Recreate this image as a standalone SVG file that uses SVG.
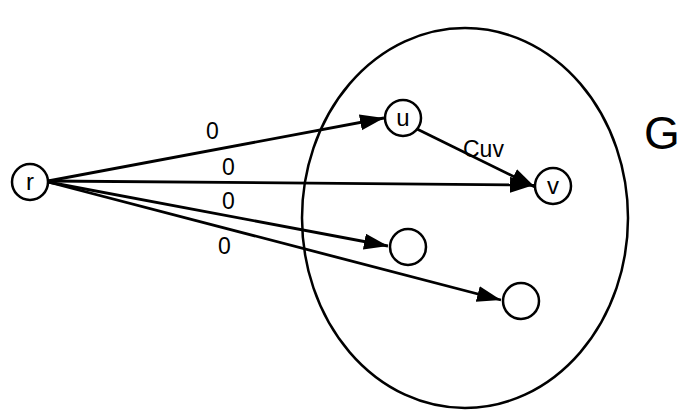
<svg xmlns="http://www.w3.org/2000/svg" width="682" height="418" viewBox="0 0 682 418">
<style>
.n{fill:#fff;stroke:#000;stroke-width:2.5}
.e{stroke:#000;stroke-width:2.8;fill:none;marker-end:url(#ah)}
.t{font-family:"Liberation Sans",Arial,sans-serif;font-size:24px;fill:#000}
.l{font-family:"Liberation Sans",Arial,sans-serif;font-size:23px;fill:#000}
</style>
<defs>
<marker id="ah" markerUnits="userSpaceOnUse" markerWidth="26" markerHeight="18" refX="24" refY="8" orient="auto">
<path d="M0,0 L24,8 L0,16 z" fill="#000"/>
</marker>
</defs>
<g id="G">
<ellipse cx="465" cy="218" rx="163" ry="190" fill="none" stroke="#000" stroke-width="2.5"/>
<text x="644" y="149" style="font-family:'Liberation Sans',Arial,sans-serif;font-size:46px">G</text>
</g>
<g id="edges">
<line class="e" x1="48" y1="181" x2="384" y2="118"/>
<line class="e" x1="48" y1="181" x2="534" y2="185"/>
<line class="e" x1="48" y1="182" x2="388" y2="246"/>
<line class="e" x1="48" y1="182" x2="501" y2="300"/>
<line class="e" x1="417" y1="129" x2="535" y2="187"/>
<text class="l" x="206" y="139">0</text>
<text class="l" x="222" y="175">0</text>
<text class="l" x="222" y="209">0</text>
<text class="l" x="218" y="254">0</text>
<text class="l" x="463" y="157">Cuv</text>
</g>
<g id="r"><circle class="n" cx="30" cy="182" r="18"/><text class="t" x="30" y="190" text-anchor="middle">r</text></g>
<g id="u"><circle class="n" cx="403" cy="118" r="18"/><text class="t" x="403" y="126" text-anchor="middle">u</text></g>
<g id="v"><circle class="n" cx="553" cy="186" r="18"/><text class="t" x="553" y="194" text-anchor="middle">v</text></g>
<g id="n1"><circle class="n" cx="408" cy="247" r="18"/></g>
<g id="n2"><circle class="n" cx="521" cy="301" r="18"/></g>
</svg>
